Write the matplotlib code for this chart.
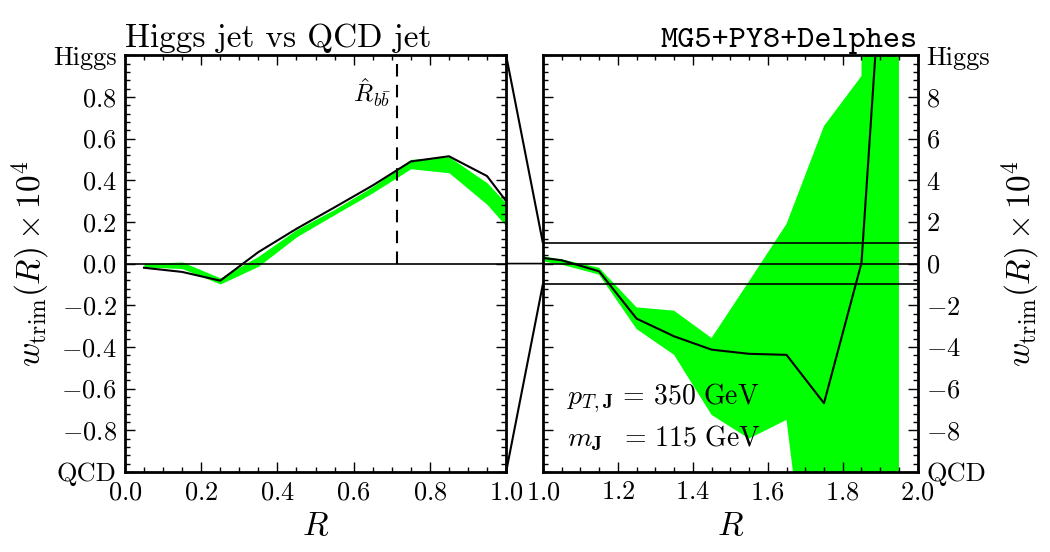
import matplotlib
matplotlib.use('Agg')
import matplotlib.pyplot as plt
from matplotlib.ticker import MultipleLocator
from matplotlib.patches import ConnectionPatch

plt.rcParams['mathtext.fontset'] = 'cm'
plt.rcParams['font.family'] = 'cmr10'
plt.rcParams['axes.unicode_minus'] = False

# Data (w_trim x 10^4)
r_left = [0.05, 0.15, 0.25, 0.35, 0.45, 0.55, 0.65, 0.75, 0.85, 0.95, 1.0]
w_left = [-0.02, -0.04, -0.082, 0.055, 0.167, 0.27, 0.375, 0.49, 0.515, 0.42, 0.30]
band_left_hi = [0.0, 0.008, -0.069, 0.035, 0.163, 0.26, 0.37, 0.50, 0.513, 0.388, 0.29]
band_left_lo = [-0.016, -0.024, -0.098, -0.013, 0.128, 0.235, 0.34, 0.455, 0.436, 0.284, 0.18]

r_right = [1.0, 1.05, 1.15, 1.25, 1.35, 1.45, 1.55, 1.65, 1.75, 1.85, 1.95]
w_right = [0.27, 0.16, -0.37, -2.64, -3.49, -4.13, -4.33, -4.38, -6.7, 0.03, 27.0]
band_right_hi = [0.35, 0.2, -0.2, -2.1, -2.26, -3.57, -0.85, 1.9, 6.6, 9.0, 500.0]
band_right_lo = [0.1, -0.05, -0.53, -3.14, -4.38, -7.26, -8.4, -7.5, -22.0, -22.0, -22.0]

r_bb = 0.713

left_yticks = [-1.0, -0.8, -0.6, -0.4, -0.2, 0.0, 0.2, 0.4, 0.6, 0.8, 1.0]
left_ylabels = ['QCD', '$-0.8$', '$-0.6$', '$-0.4$', '$-0.2$', '$0.0$',
                '$0.2$', '$0.4$', '$0.6$', '$0.8$', 'Higgs']
right_yticks = [-10, -8, -6, -4, -2, 0, 2, 4, 6, 8, 10]
right_ylabels = ['QCD', '$-8$', '$-6$', '$-4$', '$-2$', '$0$',
                 '$2$', '$4$', '$6$', '$8$', 'Higgs']
left_xticks = [0.0, 0.2, 0.4, 0.6, 0.8, 1.0]
right_xticks = [1.0, 1.2, 1.4, 1.6, 1.8, 2.0]

green = '#00ff00'

fig = plt.figure(figsize=(10.5, 5.52), dpi=100)
ax1 = fig.add_axes([0.119, 0.145, 0.363, 0.755])
ax2 = fig.add_axes([0.517, 0.145, 0.357, 0.755])

# Left panel
ax1.fill_between(r_left, band_left_lo, band_left_hi, color=green, lw=0)
ax1.plot(r_left, w_left, color='black', lw=1.5)
ax1.axhline(0, color='black', lw=1.2)
ax1.plot([r_bb, r_bb], [0, 1], color='black', lw=1.5, ls=(0, (6, 4)))
ax1.text(0.648, 0.82, r'$\hat{R}_{b\bar{b}}$', fontsize=18, ha='center', va='center')
ax1.set_xlim(0, 1)
ax1.set_ylim(-1, 1)
ax1.set_xticks(left_xticks)
ax1.set_xticklabels(['$%.1f$' % v for v in left_xticks])
ax1.set_yticks(left_yticks)
ax1.set_yticklabels(left_ylabels)
ax1.xaxis.set_minor_locator(MultipleLocator(0.05))
ax1.yaxis.set_minor_locator(MultipleLocator(0.04))
ax1.set_xlabel('$R$', fontsize=24, labelpad=6)
ax1.set_title('Higgs jet vs QCD jet', loc='left', fontsize=24, pad=6)

# Right panel
ax2.fill_between(r_right, band_right_lo, band_right_hi, color=green, lw=0)
ax2.plot(r_right, w_right, color='black', lw=1.5)
for yv in (-1, 0, 1):
    ax2.axhline(yv, color='black', lw=1.2)
ax2.text(1.065, -6.45, r'$p_{T,\mathbf{J}}\,=\,350\ \mathrm{GeV}$', fontsize=20,
         ha='left', va='center')
ax2.text(1.065, -8.4, r'$m_{\mathbf{J}}\ \ =\,115\ \mathrm{GeV}$', fontsize=20,
         ha='left', va='center')
ax2.set_xlim(1, 2)
ax2.set_ylim(-10, 10)
ax2.set_xticks(right_xticks)
ax2.set_xticklabels(['$%.1f$' % v for v in right_xticks])
ax2.set_yticks(right_yticks)
ax2.set_yticklabels(right_ylabels)
ax2.xaxis.set_minor_locator(MultipleLocator(0.05))
ax2.yaxis.set_minor_locator(MultipleLocator(0.4))
ax2.set_xlabel('$R$', fontsize=24, labelpad=6)
ax2.set_title('MG5+PY8+Delphes', loc='right', fontsize=23.5, pad=6, family='cmtt10')

for ax in (ax1, ax2):
    for sp in ax.spines.values():
        sp.set_linewidth(2)
    ax.tick_params(which='both', direction='in', top=True, right=True, left=True,
                   bottom=True, labelsize=19, pad=6)
    ax.tick_params(which='major', length=7, width=1)
    ax.tick_params(which='minor', length=3.5, width=1)
ax2.tick_params(labelleft=False, labelright=True)

# Zoom connectors between panels
for ya, yb in ((1, 1), (0, 0), (-1, -1)):
    con = ConnectionPatch(xyA=(1.0, ya), coordsA='data', axesA=ax1,
                          xyB=(1.0, yb), coordsB='data', axesB=ax2,
                          color='black', lw=1.5 if ya else 1.2)
    fig.add_artist(con)

ylab = r'$w_{\mathrm{trim}}(R)\times10^4$'
fig.text(0.029, 0.523, ylab, fontsize=24, rotation=90, ha='center', va='center')
fig.text(0.972, 0.523, ylab, fontsize=24, rotation=90, ha='center', va='center')

fig.savefig('out.png', dpi=100)
